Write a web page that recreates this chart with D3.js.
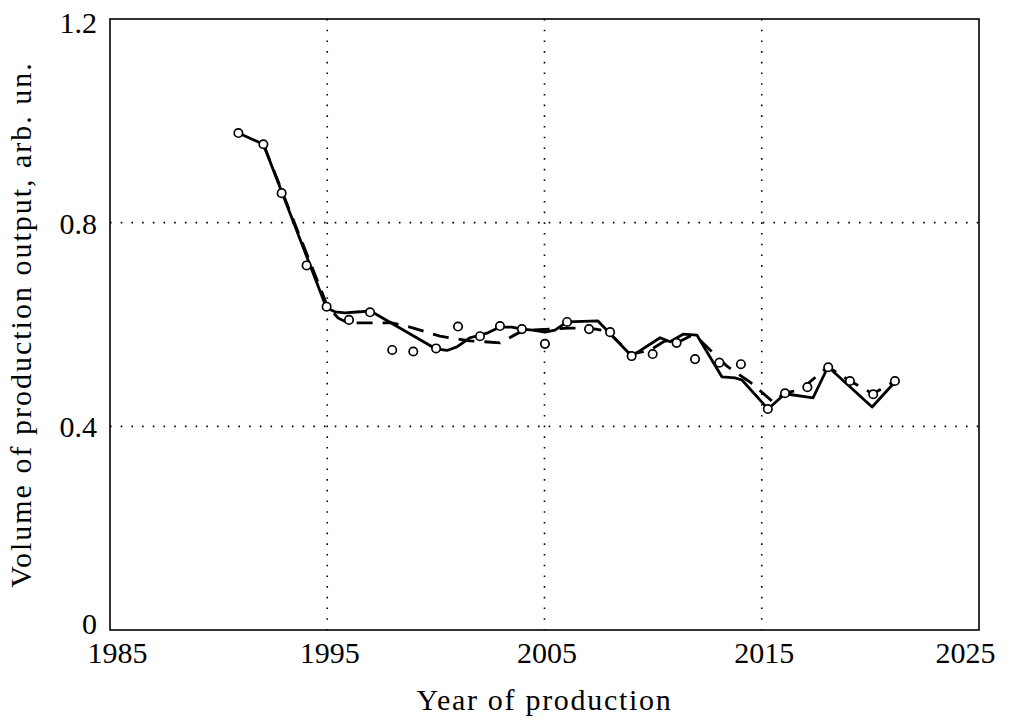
<!DOCTYPE html>
<html>
<head>
<meta charset="utf-8">
<script src="https://cdn.jsdelivr.net/npm/d3@7"></script>
<style>
  html, body { margin: 0; padding: 0; background: #fff; }
  svg { display: block; }
  text { font-family: "Liberation Serif", "DejaVu Serif", serif; fill: #000; }
</style>
</head>
<body>
<svg id="chart" width="1015" height="725"></svg>
<script>
// ---- data ----
const obsYears = [1990.91, 1992.06, 1992.90, 1994.05, 1994.97, 1996.00, 1996.97, 1997.99, 1998.96, 2000.01,
                  2001.02, 2002.03, 2002.95, 2003.96, 2005.02, 2006.04, 2007.05, 2008.02, 2009.01, 2009.98,
                  2011.08, 2011.93, 2013.05, 2014.04, 2015.28, 2016.07, 2017.10, 2018.06, 2019.06, 2020.13, 2021.13];
const obsValues = [0.976, 0.954, 0.858, 0.716, 0.635, 0.609, 0.624, 0.550, 0.547, 0.553,
                   0.596, 0.577, 0.597, 0.591, 0.562, 0.605, 0.591, 0.585, 0.538, 0.542,
                   0.564, 0.532, 0.525, 0.522, 0.434, 0.465, 0.477, 0.516, 0.489, 0.463, 0.489];

const solidYears = [1990.91, 1992.06, 1994.90, 1995.10, 1995.36, 1995.82, 1996.51, 1996.97, 2000.01, 2000.51, 2000.97,
                    2001.57, 2002.03, 2002.35, 2002.95, 2003.50, 2003.96, 2004.47, 2005.02, 2005.48, 2006.04,
                    2007.46, 2009.01, 2010.32, 2010.78, 2011.38, 2012.02, 2013.17, 2013.77, 2014.09, 2015.29,
                    2016.07, 2017.36, 2018.05, 2020.08, 2021.13];
const solidValues = [0.976, 0.954, 0.640, 0.630, 0.625, 0.623, 0.625, 0.627, 0.552, 0.549, 0.556,
                     0.574, 0.579, 0.583, 0.595, 0.595, 0.591, 0.589, 0.585, 0.589, 0.605,
                     0.607, 0.538, 0.574, 0.566, 0.581, 0.579, 0.497, 0.495, 0.491, 0.434,
                     0.464, 0.456, 0.517, 0.438, 0.487];

const dashYears = [1992.09, 1994.99, 1995.49, 1995.96, 1997.98, 1998.81, 2000.19, 2001.57, 2002.95, 2003.78,
                   2004.33, 2006.17, 2007.09, 2007.88, 2008.98, 2009.49, 2009.95, 2010.55, 2011.10, 2011.70,
                   2012.07, 2013.40, 2014.46, 2015.52, 2016.07, 2016.76, 2018.05, 2019.06, 2020.12, 2021.13];
const dashValues = [0.951, 0.638, 0.613, 0.603, 0.603, 0.595, 0.577, 0.568, 0.564, 0.583,
                    0.589, 0.593, 0.593, 0.587, 0.542, 0.546, 0.552, 0.568, 0.564, 0.577,
                    0.573, 0.518, 0.487, 0.448, 0.466, 0.471, 0.517, 0.489, 0.464, 0.489];

const xTicks = [1985, 1995, 2005, 2015, 2025];
const xTickLabels = ["1985", "1995", "2005", "2015", "2025"];
const yTicks = [0, 0.4, 0.8, 1.2];
const yTickLabels = ["0", "0.4", "0.8", "1.2"];
const xGrid = [1995, 2005, 2015];
const yGrid = [0.4, 0.8];
const xTitle = "Year of production";
const yTitle = "Volume of production output, arb. un.";

// ---- layout ----
const svg = d3.select("#chart");
const mLeft = 110, mRight = 979, mTop = 19, mBottom = 630;
const x = d3.scaleLinear().domain([1985, 2025]).range([mLeft, mRight]);
const y = d3.scaleLinear().domain([0, 1.2]).range([mBottom, mTop]);

// grid
svg.append("g").selectAll("line").data(xGrid).join("line")
  .attr("x1", d => x(d)).attr("x2", d => x(d)).attr("y1", mTop).attr("y2", mBottom)
  .attr("stroke", "#000").attr("stroke-width", 1.6).attr("stroke-dasharray", "1.6,9.1");
svg.append("g").selectAll("line").data(yGrid).join("line")
  .attr("y1", d => y(d)).attr("y2", d => y(d)).attr("x1", mLeft).attr("x2", mRight)
  .attr("stroke", "#000").attr("stroke-width", 1.6).attr("stroke-dasharray", "1.6,9.1");

// axes (labels only)
const xAxis = svg.append("g").attr("transform", `translate(0,${mBottom})`)
  .call(d3.axisBottom(x).tickValues(xTicks).tickSize(0).tickPadding(0)
        .tickFormat((d, i) => xTickLabels[i]));
xAxis.select(".domain").remove();
xAxis.selectAll("text").attr("font-size", 30).attr("font-family", "Liberation Serif")
  .attr("dy", null).attr("y", 33)
  .attr("text-anchor", (d, i) => i === 0 ? "start" : (i === xTicks.length - 1 ? "end" : "middle"))
  .attr("x", (d, i) => i === 0 ? -23 : (i === xTicks.length - 1 ? 16 : 2));

const yAxis = svg.append("g").attr("transform", `translate(${mLeft},0)`)
  .call(d3.axisLeft(y).tickValues(yTicks).tickSize(0).tickPadding(0)
        .tickFormat((d, i) => yTickLabels[i]));
yAxis.select(".domain").remove();
yAxis.selectAll("text").attr("font-size", 30).attr("font-family", "Liberation Serif")
  .attr("x", -13).attr("dy", null)
  .attr("y", d => d === 0 ? 3 : (d === 1.2 ? 13 : 10.5));

// frame
svg.append("rect").attr("x", mLeft).attr("y", mTop)
  .attr("width", mRight - mLeft).attr("height", mBottom - mTop)
  .attr("fill", "none").attr("stroke", "#000").attr("stroke-width", 1.6);

// lines
const line = d3.line().x(d => x(d[0])).y(d => y(d[1]));
svg.append("path").datum(solidYears.map((d, i) => [d, solidValues[i]]))
  .attr("d", line).attr("fill", "none").attr("stroke", "#000")
  .attr("stroke-width", 2.8).attr("stroke-linejoin", "round");
svg.append("path").datum(dashYears.map((d, i) => [d, dashValues[i]]))
  .attr("d", line).attr("fill", "none").attr("stroke", "#000")
  .attr("stroke-width", 2.8).attr("stroke-dasharray", "16,10");

// observed points
svg.append("g").selectAll("circle").data(obsYears.map((d, i) => [d, obsValues[i]])).join("circle")
  .attr("cx", d => x(d[0])).attr("cy", d => y(d[1])).attr("r", 4.2)
  .attr("fill", "#fff").attr("stroke", "#000").attr("stroke-width", 1.7);

// titles
svg.append("text").attr("x", (mLeft + mRight) / 2).attr("y", 710)
  .attr("text-anchor", "middle").attr("font-size", 30).attr("letter-spacing", 1.7)
  .text(xTitle);
svg.append("text").attr("transform", `translate(31,${(mTop + mBottom) / 2}) rotate(-90)`)
  .attr("text-anchor", "middle").attr("font-size", 30).attr("letter-spacing", 2)
  .text(yTitle);
</script>
</body>
</html>
